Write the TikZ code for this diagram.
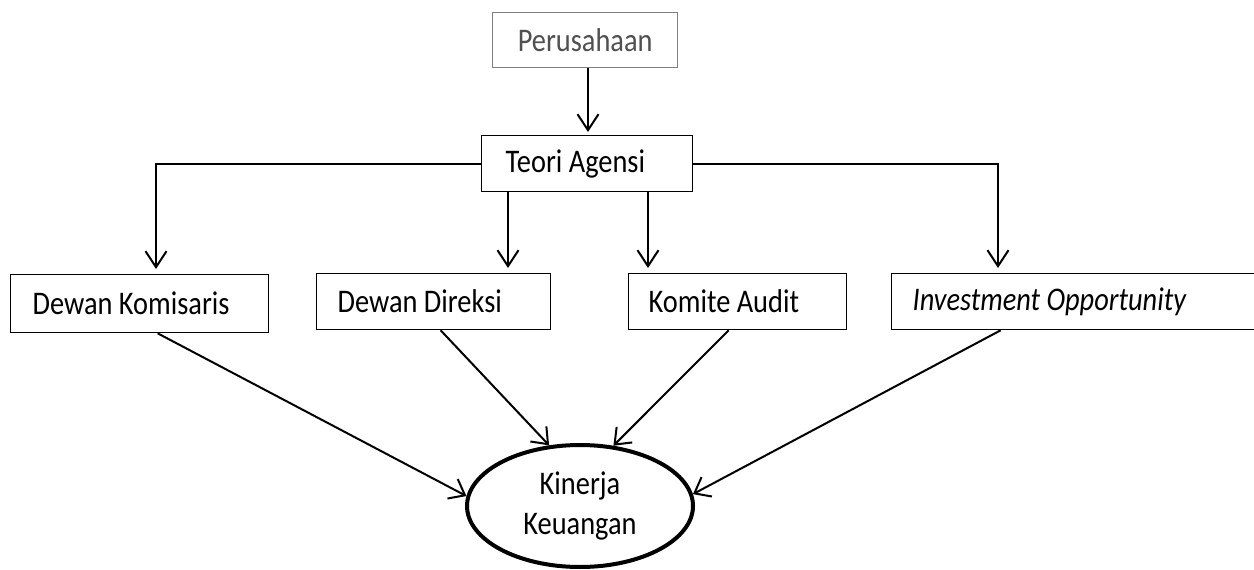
\documentclass[tikz,border=0pt]{standalone}
\usepackage{fontspec}
\setmainfont{Carlito}[FakeStretch=0.86]
\usetikzlibrary{arrows.meta,shapes.geometric}
\definecolor{pgray}{HTML}{505050}
\definecolor{bgray}{HTML}{808080}
\newcommand\natsp{\spaceskip=0pt\xspaceskip=0pt\relax}
\begin{document}
\begin{tikzpicture}[x=1pt,y=-1pt,
  txt/.style={font=\fontsize{33}{40}\selectfont},
  box/.style={txt,draw,line width=1.3pt,rectangle,anchor=north west,align=left,inner ysep=0pt},
  arr/.style={line width=2pt,-{Straight Barb[length=16pt,width=21pt]}},
  lnk/.style={line width=2pt,-{Straight Barb[length=14pt,width=22pt]}},
]
\useasboundingbox (0,0) rectangle (1254,570);
\fill[white] (0,0) rectangle (1254,570);

% boxes
\node[box,draw=bgray,text=pgray,align=center,inner xsep=0pt,minimum width=185pt,minimum height=55pt] (per) at (492,12) {Perusahaan};
\node[box,text width=163pt,inner xsep=24pt,minimum height=56pt] (teori) at (481,135) {\natsp Teori Agensi};
\node[box,text width=214pt,inner xsep=22pt,minimum height=58pt] (dk) at (10,274) {\natsp Dewan Komisaris};
\node[box,text width=192pt,inner xsep=21pt,minimum height=56pt] (dd) at (316,273) {\natsp Dewan Direksi};
\node[box,text width=178pt,inner xsep=20pt,minimum height=56pt] (ka) at (628,273) {\natsp Komite Audit};
\node[box,text width=338pt,inner xsep=21pt,minimum height=56pt] (inv) at (891,273) {\natsp\itshape Investment Opportunity};

% ellipse
\node[txt,draw,ellipse,line width=4pt,minimum width=226pt,minimum height=122pt,inner sep=0pt,align=center] (kk) at (580,506) {Kinerja\\Keuangan};

% branch coordinates
\coordinate (xp) at (588,0);
\coordinate (xl) at (156,0);
\coordinate (xr) at (998,0);
\coordinate (x1) at (508,0);
\coordinate (x2) at (648,0);

% arrows from top
\draw[arr] (per.south -| xp) -- ([yshift=3pt]teori.north -| xp);
\draw[arr] (teori.west) -- (teori.west -| xl) -- ([yshift=5pt]dk.north -| xl);
\draw[arr] (teori.east) -- (teori.east -| xr) -- ([yshift=5pt]inv.north -| xr);
\draw[arr] (teori.south -| x1) -- ([yshift=5pt]dd.north -| x1);
\draw[arr] (teori.south -| x2) -- ([yshift=5pt]ka.north -| x2);

% arrows to ellipse
\draw[lnk] ([xshift=18pt]dk.south) -- (kk.175);
\draw[lnk] ([xshift=7pt]dd.south) -- (kk.117);
\draw[lnk] ([xshift=-9pt]ka.south) -- (kk.61);
\draw[lnk] ([xshift=-81pt]inv.south) -- (kk.6);
\end{tikzpicture}
\end{document}
